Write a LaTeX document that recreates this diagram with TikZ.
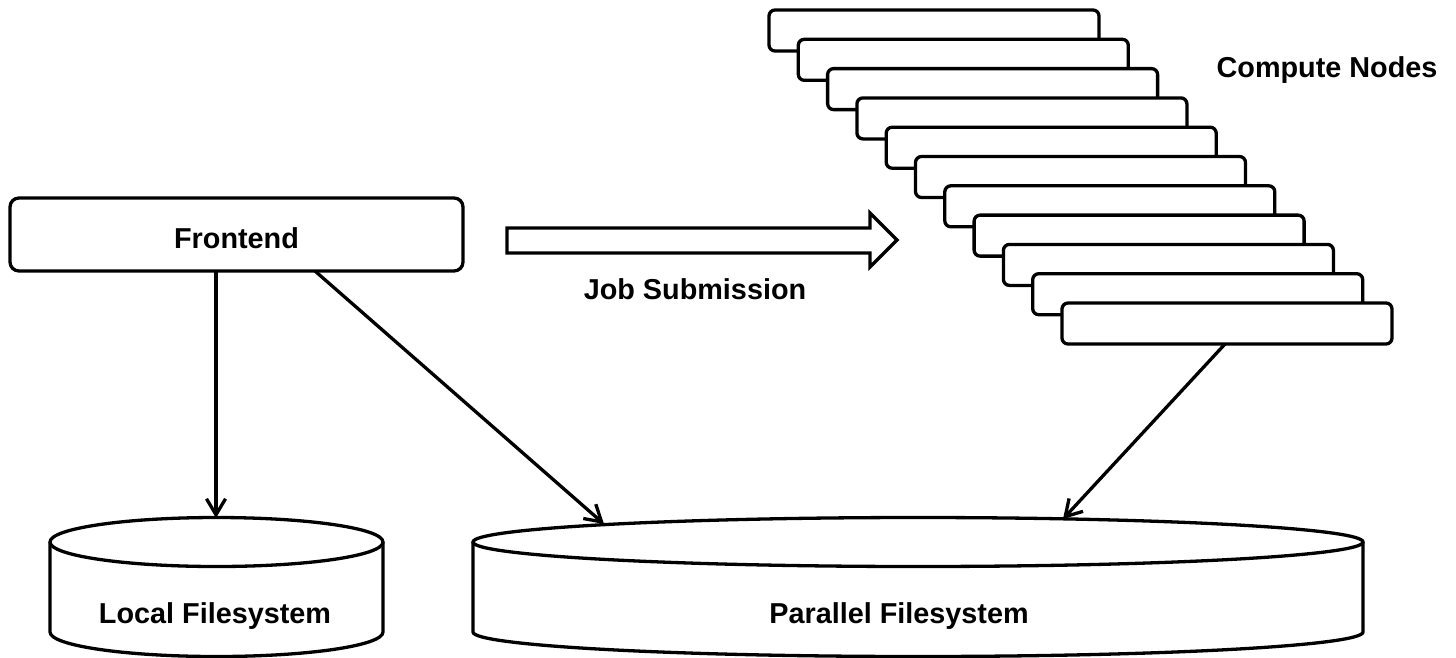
\documentclass[tikz,border=0pt]{standalone}
\usepackage{fontspec}
\setmainfont{Liberation Sans}
\usetikzlibrary{arrows.meta}
\begin{document}
\begin{tikzpicture}[x=1pt,y=-1pt,
  line width=3.3pt,
  lbl/.style={font=\bfseries\fontsize{28.8}{34}\selectfont, anchor=base, inner sep=0pt},
  febox/.style={draw, rounded corners=9pt, minimum width=453pt, minimum height=73pt, inner sep=0pt},
  cnbox/.style={draw, fill=white, rounded corners=6pt, minimum width=330pt, minimum height=41pt, inner sep=0pt},
  conn/.style={-{Straight Barb[length=16pt,width=19pt]}, line width=3.3pt}
]
\useasboundingbox (0,0) rectangle (1456,657);

% Frontend
\node[febox] (fe) at (236.5,234.5) {};
\node[lbl] (felbl) at (236.5,248) {Frontend};

% Compute nodes
\foreach \i in {0,...,10}{
  \node[cnbox] (cn\i) at ({769+165+29.3*\i},{10+20.5+29.3*\i}) {};
}
\node[lbl] (cnlbl) at (1327,77) {Compute Nodes};

% Job submission block arrow
\draw[line join=miter] (507,228) -- (870,228) -- (870,213) -- (897,240) -- (870,267) -- (870,253) -- (507,253) -- cycle;
\node[lbl] (jslbl) at (695,299) {Job Submission};

% Local filesystem cylinder
\draw[fill=white] (50,542) -- (50,632) arc[start angle=180,end angle=360,x radius=166.5pt,y radius=24.5pt] -- (383,542);
\draw (216.5,542) ellipse [x radius=166.5pt, y radius=24.5pt];
\node[lbl] (lfslbl) at (215,623) {Local Filesystem};
\coordinate (lfstop) at (216,518);

% Parallel filesystem cylinder
\draw[fill=white] (473,542) -- (473,632) arc[start angle=180,end angle=360,x radius=445pt,y radius=24.5pt] -- (1363,542);
\draw (918,542) ellipse [x radius=445pt, y radius=24.5pt];
\node[lbl] (pfslbl) at (899,623) {Parallel Filesystem};
\coordinate (pfsA) at (604,524);
\coordinate (pfsB) at (1063,519);

% Connectors
\coordinate (feA) at (216,271);
\coordinate (feB) at (315,271);
\coordinate (cnA) at (1225,344);
\draw[conn] (feA) -- (lfstop);
\draw[conn] (feB) -- (pfsA);
\draw[conn] (cnA) -- (pfsB);
\end{tikzpicture}
\end{document}
